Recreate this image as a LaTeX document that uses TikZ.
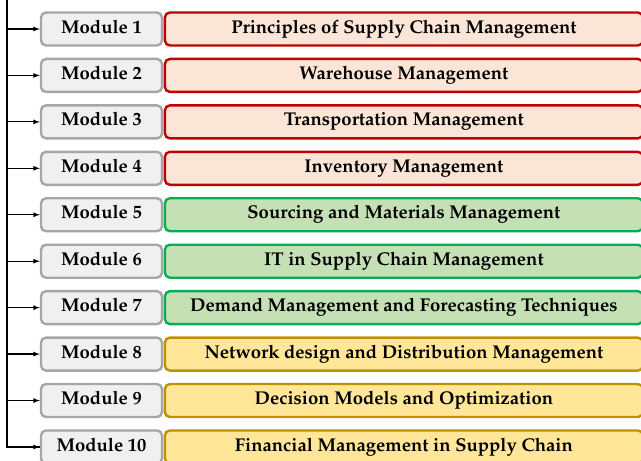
\documentclass[tikz,border=0pt]{standalone}
\usepackage[T1]{fontenc}
\renewcommand{\rmdefault}{ppl}
\usepackage{xcolor}
\usepackage{tikz}
\usetikzlibrary{arrows,calc,positioning}
\definecolor{modgray}{HTML}{A6A6A6}
\definecolor{modfill}{HTML}{F0F0F0}
\definecolor{redline}{HTML}{C00000}
\definecolor{redfill}{HTML}{FBE5D6}
\definecolor{greenline}{HTML}{00B050}
\definecolor{greenfill}{HTML}{C5E0B4}
\definecolor{goldline}{HTML}{BF9000}
\definecolor{goldfill}{HTML}{FFE699}

\begin{document}
\begin{tikzpicture}[
    x=1pt, y=-1pt,
    font=\bfseries\fontsize{18.5}{22}\selectfont,
    modbox/.style={draw=modgray, fill=modfill, line width=2.4pt, rounded corners=5pt,
        minimum width=121pt, minimum height=33pt, inner sep=0,
        text height=0.82em, text depth=0em},
    topicbox/.style={line width=2.4pt, rounded corners=5pt,
        minimum width=478pt, minimum height=33pt, inner sep=0,
        text height=0.82em, text depth=0em},
    redbox/.style={topicbox, draw=redline, fill=redfill},
    greenbox/.style={topicbox, draw=greenline, fill=greenfill},
    goldbox/.style={topicbox, draw=goldline, fill=goldfill},
    feed/.style={-latex, line width=1.2pt}]
\useasboundingbox (0,0) rectangle (641,461);

\coordinate (trunk) at (7,0);

\foreach \i/\kind/\topic in {
    1/redbox/Principles of Supply Chain Management,
    2/redbox/Warehouse Management,
    3/redbox/Transportation Management,
    4/redbox/Inventory Management,
    5/greenbox/Sourcing and Materials Management,
    6/greenbox/IT in Supply Chain Management,
    7/greenbox/Demand Management and Forecasting Techniques,
    8/goldbox/Network design and Distribution Management,
    9/goldbox/Decision Models and Optimization,
    10/goldbox/Financial Management in Supply Chain}{
  \node[modbox] (mod\i) at (101.5,{29+(\i-1)*46.44}) {Module \i};
  \node[\kind, right=0.5pt of mod\i] (topic\i) {\topic};
}

% feed lines from the trunk
\draw[line width=1.2pt] (trunk) |- (mod10.west);
\draw[feed] ($(mod10.west)+(-10,0)$) -- (mod10.west);
\foreach \i in {1,...,9}
  \draw[feed] (mod\i.west -| trunk) -- (mod\i.west);

\end{tikzpicture}
\end{document}
